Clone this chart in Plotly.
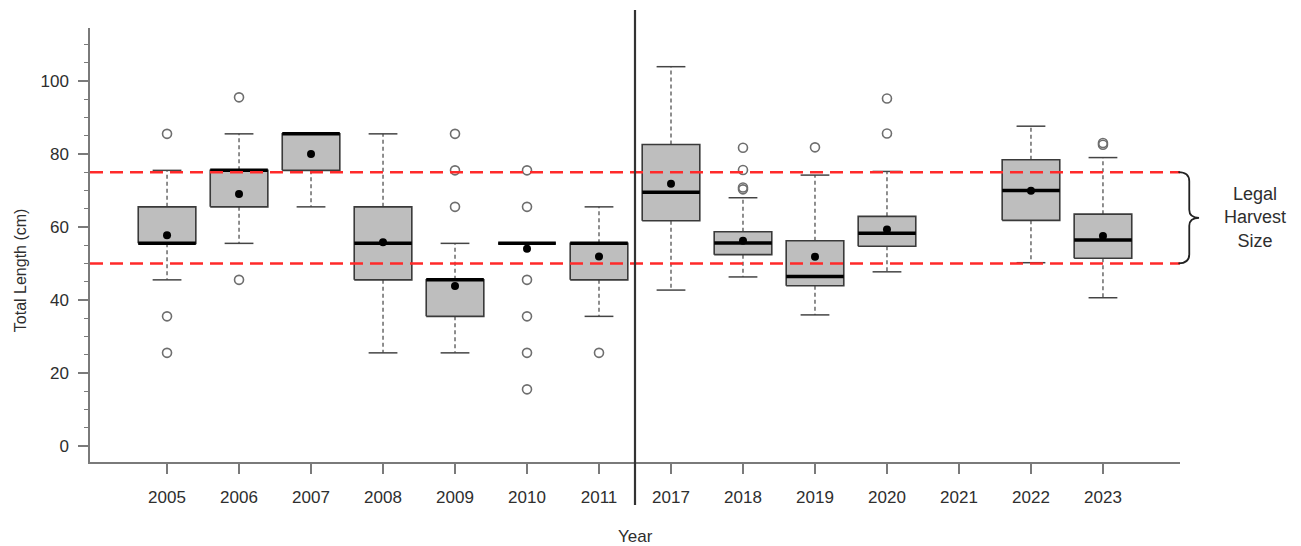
import plotly.graph_objects as go

years = ["2005", "2006", "2007", "2008", "2009", "2010", "2011",
         "2017", "2018", "2019", "2020", "2021", "2022", "2023"]
q1 = [55.5, 65.5, 75.5, 45.5, 35.5, 55.5, 45.5, 61.7, 52.4, 43.9, 54.7, None, 61.8, 51.4]
median = [55.5, 75.5, 85.5, 55.5, 45.5, 55.5, 55.5, 69.5, 55.6, 46.4, 58.3, None, 70.0, 56.4]
q3 = [65.5, 75.5, 85.5, 65.5, 45.5, 55.5, 55.5, 82.6, 58.7, 56.2, 62.9, None, 78.4, 63.5]
lower_whisker = [45.5, 55.5, 65.5, 25.5, 25.5, 55.5, 35.5, 42.7, 46.3, 35.9, 47.7, None, 50.2, 40.6]
upper_whisker = [75.5, 85.5, 85.5, 85.5, 55.5, 55.5, 65.5, 103.9, 68.0, 74.2, 75.2, None, 87.6, 79.0]
means = [57.7, 69.0, 80.0, 55.8, 43.8, 54.0, 51.9, 71.8, 56.2, 51.8, 59.3, None, 69.9, 57.5]
outliers = [
    [85.5, 35.5, 25.5],
    [95.5, 45.5],
    [],
    [],
    [85.5, 75.5, 65.5],
    [75.5, 65.5, 45.5, 35.5, 25.5, 15.5],
    [25.5],
    [],
    [81.7, 75.6, 70.3, 70.8],
    [81.8],
    [95.2, 85.6],
    [],
    [],
    [82.5, 83.0],
]
legal_min = 50
legal_max = 75
y_ticks = [0, 20, 40, 60, 80, 100]

pos = list(range(1, len(years) + 1))
BOX_HW = 0.4
CAP_HW = 0.2

FONT = "Liberation Sans, Arial, sans-serif"
TXT = "#2e2e2e"
AX = "#7a7a7a"

bx, by = [], []
wx, wy = [], []
cx, cy = [], []
mx, my = [], []
for p, a, m, b, lo, hi in zip(pos, q1, median, q3, lower_whisker, upper_whisker):
    if a is None:
        continue
    bx += [p - BOX_HW, p + BOX_HW, p + BOX_HW, p - BOX_HW, p - BOX_HW, None]
    by += [a, a, b, b, a, None]
    wx += [p, p, None, p, p, None]
    wy += [b, hi, None, a, lo, None]
    cx += [p - CAP_HW, p + CAP_HW, None, p - CAP_HW, p + CAP_HW, None]
    cy += [hi, hi, None, lo, lo, None]
    mx += [p - BOX_HW, p + BOX_HW, None]
    my += [m, m, None]

ox, oy = [], []
for p, outs in zip(pos, outliers):
    for v in outs:
        ox.append(p)
        oy.append(v)

fig = go.Figure()
fig.add_trace(go.Scatter(x=wx, y=wy, mode="lines",
                         line=dict(color="#444444", width=1.2, dash="4px,3px"),
                         hoverinfo="skip", showlegend=False))
fig.add_trace(go.Scatter(x=cx, y=cy, mode="lines",
                         line=dict(color="#444444", width=1.5),
                         hoverinfo="skip", showlegend=False))
fig.add_trace(go.Scatter(x=bx, y=by, mode="lines", fill="toself",
                         fillcolor="#bebebe",
                         line=dict(color="#3a3a3a", width=1.6),
                         hoverinfo="skip", showlegend=False))
fig.add_trace(go.Scatter(x=mx, y=my, mode="lines",
                         line=dict(color="#000000", width=3.5),
                         hoverinfo="skip", showlegend=False))
fig.add_trace(go.Scatter(x=ox, y=oy, mode="markers",
                         marker=dict(symbol="circle-open", size=9,
                                     color="#6e6e6e", line=dict(width=1.6, color="#6e6e6e")),
                         showlegend=False))
fig.add_trace(go.Scatter(x=[p for p, v in zip(pos, means) if v is not None],
                         y=[v for v in means if v is not None], mode="markers",
                         marker=dict(symbol="circle", size=8, color="#000000"),
                         showlegend=False))

# legal harvest lines
for yv in (legal_min, legal_max):
    fig.add_shape(type="line", xref="paper", yref="y", x0=0, x1=1, y0=yv, y1=yv,
                  line=dict(color="#ff2a2a", width=2.5, dash="13px,7px"), layer="above")

# separator between periods
fig.add_shape(type="line", xref="x", yref="paper", x0=7.5, x1=7.5, y0=-0.099, y1=1.0415,
              line=dict(color="#333333", width=2.2), layer="above")

# brace
x0, x1, x2 = 0.9985, 1.0085, 1.0175
mid = (legal_min + legal_max) / 2
path = (f"M {x0},{legal_max} Q {x1},{legal_max} {x1},{legal_max-2.5} "
        f"L {x1},{mid+2.2} Q {x1},{mid} {x2},{mid} "
        f"Q {x1},{mid} {x1},{mid-2.2} "
        f"L {x1},{legal_min+2.5} Q {x1},{legal_min} {x0},{legal_min}")
fig.add_shape(type="path", xref="paper", yref="y", path=path,
              line=dict(color="#222222", width=1.8))

fig.add_annotation(text="Legal<br>Harvest<br>Size", xref="paper", yref="y",
                   x=1.0688, y=mid, showarrow=False, xanchor="center", yanchor="middle",
                   font=dict(family=FONT, size=18, color=TXT))
fig.add_annotation(text="Year", xref="paper", yref="paper", x=0.5, y=-0.1728,
                   showarrow=False, xanchor="center", yanchor="middle",
                   font=dict(family=FONT, size=17, color=TXT))
fig.add_annotation(text="Total Length (cm)", xref="paper", yref="paper", x=-0.0642, y=0.442,
                   showarrow=False, xanchor="center", yanchor="middle", textangle=-90,
                   font=dict(family=FONT, size=16, color=TXT))

fig.update_layout(
    width=1293, height=538,
    margin=dict(l=82, r=121, t=20, b=84),
    paper_bgcolor="white", plot_bgcolor="white",
    font=dict(family=FONT, size=17, color=TXT),
    showlegend=False,
    xaxis=dict(range=[-0.07, 15.07], tickvals=pos, ticktext=years,
               showgrid=False, zeroline=False, showline=True, linecolor=AX, linewidth=1.5,
               ticks="outside", ticklen=10, tickcolor=AX, tickwidth=1.5,
               ticklabelstandoff=9, tickfont=dict(family=FONT, size=17, color=TXT)),
    yaxis=dict(range=[-4.4, 114.5], tickvals=y_ticks,
               showgrid=False, zeroline=False, showline=True, linecolor=AX, linewidth=1.5,
               ticks="outside", ticklen=10, tickcolor=AX, tickwidth=1.5,
               ticklabelstandoff=6, tickfont=dict(family=FONT, size=17, color=TXT),
               minor=dict(dtick=5, tick0=0, ticks="outside", ticklen=4, tickcolor=AX, tickwidth=1.2)),
)

fig.write_html("out.html")
